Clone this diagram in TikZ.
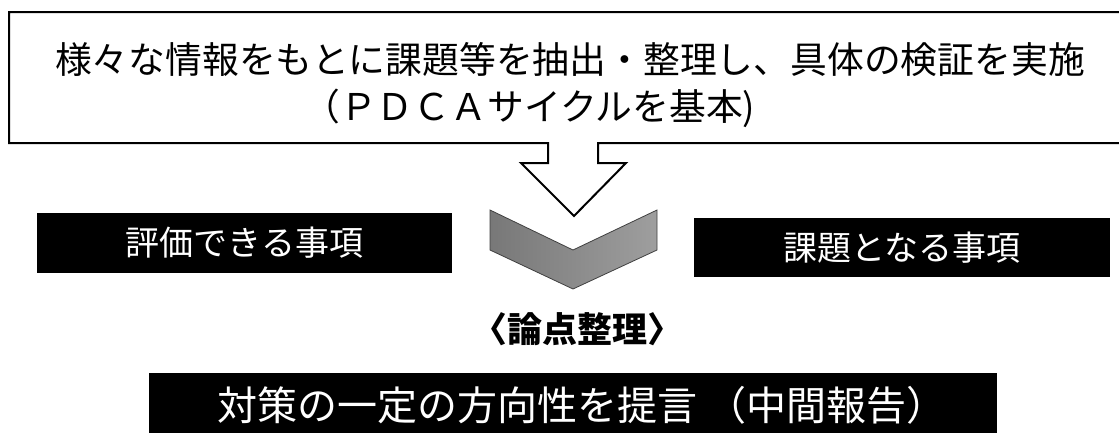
\documentclass[tikz,border=0pt]{standalone}
\usepackage{fontspec}
\setmainfont{Noto Sans CJK JP}
\begin{document}
\begin{tikzpicture}[x=1pt,y=-1pt,
  outline/.style={draw=black, line width=2pt, fill=white, line join=miter},
  blackbox/.style={fill=black, text=white, inner sep=0pt, font=\fontsize{34}{40}\selectfont},
  chev/.style={draw=black!75, line width=0.8pt, left color=black!53, right color=black!38},
  lbl/.style={inner sep=0pt}]
\useasboundingbox (0,0) rectangle (1119,432);
% callout box with hollow down arrow
\draw[outline] (9,12) -- (1135,12) -- (1135,143) -- (598,143) -- (598,163) -- (626,163)
  -- (574,216) -- (521,163) -- (548,163) -- (548,143) -- (9,143) -- cycle;
\node[lbl, font=\fontsize{36.8}{40}\selectfont] (l1) at (570,60)
  {様々な情報をもとに課題等を抽出・整理し、具体の検証を実施};
\node[lbl, anchor=west, font=\fontsize{36.8}{40}\selectfont] (l2) at (303,108)
  {（ＰＤＣＡサイクルを基本)};
% chevron
\draw[chev] (490,210) -- (573,250) -- (657,210) -- (657,250) -- (573,289) -- (490,250) -- cycle;
% side boxes
\node[blackbox, minimum width=415, minimum height=60] (eval) at (244.5,243) {評価できる事項};
\node[blackbox, minimum width=416, minimum height=59] (issue) at (902,247.5) {課題となる事項};
% ronten
\node[lbl, font=\bfseries\fontsize{35}{38}\selectfont] (ronten) at (577,329) {〈論点整理〉};
% bottom box
\node[fill=black, inner sep=0pt, minimum width=848, minimum height=70] (propbox) at (573,408) {};
\node[lbl, text=white, font=\fontsize{40}{44}\selectfont] (prop) at (582,405)
  {対策の一定の方向性を提言 （中間報告）};
\end{tikzpicture}
\end{document}
